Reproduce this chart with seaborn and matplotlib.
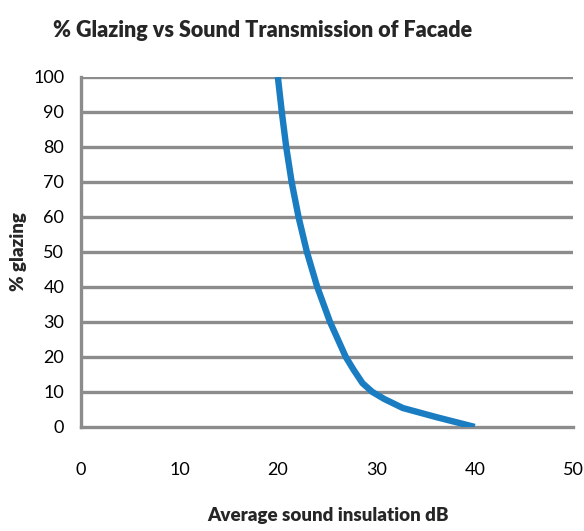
import matplotlib
matplotlib.use("Agg")
import matplotlib.pyplot as plt
import seaborn as sns
import pandas as pd

# valeurs
insulation_db = [20, 20.4, 20.85, 21.4, 22.1, 22.95, 24.0, 25.3, 26.9, 27.7, 28.6, 29.6,
                 30.8, 32.7, 36.1, 40]
glazing_pct = [100, 90, 80, 70, 60, 50, 40, 30, 20, 16.3, 12.5, 10.0,
               8.0, 5.4, 2.8, 0]
x_ticks = [0, 10, 20, 30, 40, 50]
y_ticks = [0, 10, 20, 30, 40, 50, 60, 70, 80, 90, 100]

df = pd.DataFrame({"db": insulation_db, "glazing": glazing_pct})

sns.set_style("white")
plt.rcParams["font.family"] = ["Lato", "DejaVu Sans"]

fig = plt.figure(figsize=(5.84, 5.31), dpi=100)
ax = fig.add_axes([0.1387, 0.196, 0.8427, 0.659])

for y in y_ticks[1:]:
    ax.axhline(y, color="#8c8c8c", lw=2.4, zorder=1)

sns.lineplot(data=df, x="db", y="glazing", ax=ax, color="#1a7dc2", lw=4.6,
             solid_capstyle="butt", solid_joinstyle="round", zorder=3)

ax.set_xlim(0, 50)
ax.set_ylim(0, 100)
ax.set_xticks(x_ticks)
ax.set_yticks(y_ticks)
ax.tick_params(axis="both", direction="out", length=6, width=2, color="#8c8c8c",
               labelsize=13, labelcolor="black")
ax.tick_params(axis="x", pad=19)
ax.tick_params(axis="y", pad=6)

sns.despine(ax=ax)
for s in ["left", "bottom"]:
    ax.spines[s].set_color("#8c8c8c")
    ax.spines[s].set_linewidth(2.4)

ax.set_xlabel("Average sound insulation dB", fontsize=13.5, fontweight="heavy", va="center")
ax.set_ylabel("% glazing", fontsize=13.5, fontweight="heavy", va="center")
ax.xaxis.set_label_coords(0.502, -0.254)
ax.yaxis.set_label_coords(-0.128, 0.5)
fig.text(0.45, 0.943, "% Glazing vs Sound Transmission of Facade", fontsize=15.5,
         fontweight="heavy", ha="center", va="center")

fig.savefig("out.png", dpi=100)
